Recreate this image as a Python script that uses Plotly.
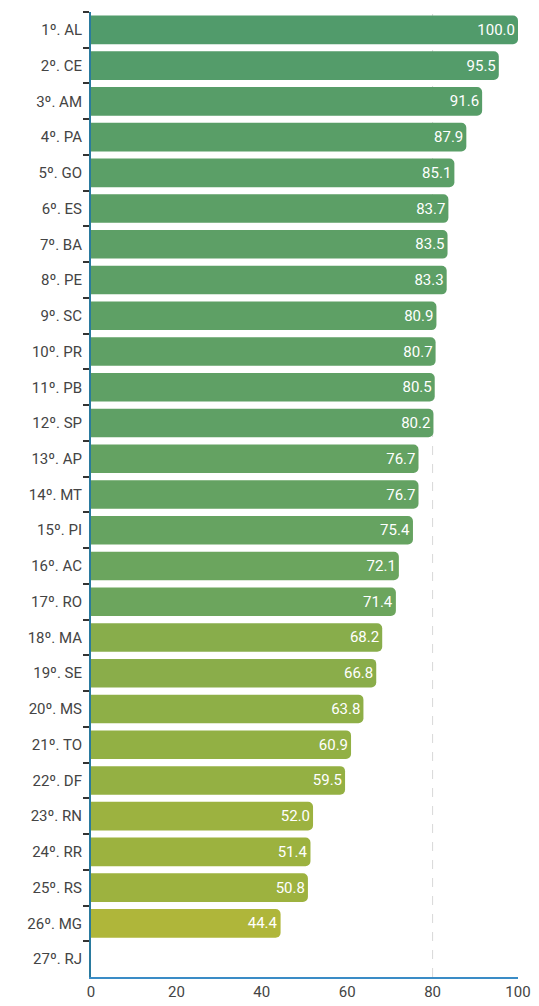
import plotly.graph_objects as go

labels = ["1º. AL", "2º. CE", "3º. AM", "4º. PA", "5º. GO", "6º. ES", "7º. BA", "8º. PE", "9º. SC",
          "10º. PR", "11º. PB", "12º. SP", "13º. AP", "14º. MT", "15º. PI", "16º. AC", "17º. RO",
          "18º. MA", "19º. SE", "20º. MS", "21º. TO", "22º. DF", "23º. RN", "24º. RR", "25º. RS",
          "26º. MG", "27º. RJ"]
values = [100.0, 95.5, 91.6, 87.9, 85.1, 83.7, 83.5, 83.3, 80.9, 80.7, 80.5, 80.2, 76.7, 76.7, 75.4,
          72.1, 71.4, 68.2, 66.8, 63.8, 60.9, 59.5, 52.0, 51.4, 50.8, 44.4, None]
x_ticks = [0, 20, 40, 60, 80, 100]

cmin, cmax = 44.4, 100.0
def stop(v):
    return (v - cmin) / (cmax - cmin)

colorscale = [
    [0.0, "#afb63a"],
    [stop(50.8), "#9db23f"],
    [stop(59.5), "#94b043"],
    [stop(68.2), "#88ad4b"],
    [stop(71.4), "#6ca55d"],
    [stop(80.0), "#5fa065"],
    [1.0, "#519b6b"],
]

font_family = "Roboto, Arial, sans-serif"

fig = go.Figure(go.Bar(
    x=values,
    y=labels,
    orientation="h",
    marker=dict(color=[v if v is not None else cmin for v in values], colorscale=colorscale,
                cmin=cmin, cmax=cmax, cornerradius=5, line=dict(width=0)),
    texttemplate="%{x:.1f}",
    textposition="inside",
    insidetextanchor="end",
    textfont=dict(color="white", size=15, family=font_family),
    hoverinfo="skip",
))

fig.add_vline(x=80, line=dict(color="#d8d8d8", width=1, dash="dash"), layer="below")

# page body has an 8px margin, so the figure is sized/offset to compensate
fig.update_layout(
    width=531, height=998,
    margin=dict(l=83, r=21, t=4, b=29, autoexpand=False),
    paper_bgcolor="white", plot_bgcolor="white",
    bargap=0.2,
    showlegend=False,
    font=dict(family=font_family, color="#444444", size=14),
    xaxis=dict(range=[0, 100], tickvals=x_ticks, showgrid=False, zeroline=False,
               showline=True, linecolor="#3a8cc6", linewidth=2, ticks="",
               automargin=False,
               tickfont=dict(size=15, color="#444444"), fixedrange=True),
    yaxis=dict(autorange="reversed", type="category", showgrid=False, zeroline=False,
               showline=True, linecolor="#2a7a9e", linewidth=2,
               ticks="outside", ticklen=6, tickwidth=2, tickcolor="#333333", tickson="boundaries",
               ticklabelstandoff=4, automargin=False,
               tickfont=dict(size=15, color="#444444"), fixedrange=True),
)

fig.write_html("out.html")
